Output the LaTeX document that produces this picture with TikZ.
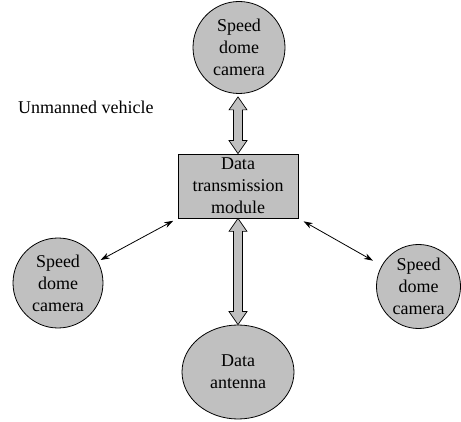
\documentclass[tikz,border=0pt]{standalone}
\usepackage{fontspec}
\setmainfont{Liberation Serif}
\usetikzlibrary{calc,arrows.meta,shapes.geometric}
\definecolor{boxgray}{RGB}{192,192,192}
\tikzset{
  label font/.style={font=\fontsize{18}{22}\selectfont},
  unit/.style={fill=boxgray,draw=black,line width=0.8pt,align=center,
    label font,inner sep=0pt},
  cam/.style={unit,circle},
  blockarrow/.style={fill=boxgray,draw=black,line width=0.7pt,line join=miter},
  thinarrow/.style={line width=0.8pt,{Stealth[length=9pt,width=6pt]}-{Stealth[length=9pt,width=6pt]}}
}
% vertical two-headed block arrow from #1 (top tip) to #2 (bottom tip)
\newcommand\dblockarrow[2]{%
  \draw[blockarrow] (#1) -- ($(#1)+(9,-13)$) -- ($(#1)+(4.5,-13)$)
    -- ($(#2)+(4.5,13)$) -- ($(#2)+(9,13)$) -- (#2) -- ($(#2)+(-9,13)$)
    -- ($(#2)+(-4.5,13)$) -- ($(#1)+(-4.5,-13)$) -- ($(#1)+(-9,-13)$) -- cycle;}
\begin{document}
\begin{tikzpicture}[x=1pt,y=1pt]
\useasboundingbox (0,0) rectangle (461,421);

\node[cam,minimum size=92pt] (topcam) at (239,373.5) {Speed\\dome\\camera};
\node[cam,minimum size=90pt] (leftcam) at (58,138) {Speed\\dome\\camera};
\node[cam,minimum size=84pt] (rightcam) at (418.5,134.5) {Speed\\dome\\camera};
\node[unit,rectangle,minimum width=120pt,minimum height=64pt] (dtm) at (238,235)
  {Data\\transmission\\module};
\node[unit,ellipse,minimum width=112pt,minimum height=94pt] (ant) at (238,49)
  {Data\\antenna};
\node[label font,anchor=west,inner sep=0pt] (uv) at (18,314) {Unmanned vehicle};

\coordinate (t1) at ($(dtm.north |- topcam.south)+(0,-3)$);
\coordinate (t2) at (dtm.north);
\dblockarrow{t1}{t2}
\coordinate (b1) at (dtm.south);
\coordinate (b2) at (dtm.south |- ant.north);
\dblockarrow{b1}{b2}

\draw[thinarrow,shorten <=5pt,shorten >=3pt] (dtm.south west) -- (leftcam);
\draw[thinarrow,shorten <=6pt,shorten >=10pt] (dtm.south east) -- (rightcam);
\end{tikzpicture}
\end{document}
